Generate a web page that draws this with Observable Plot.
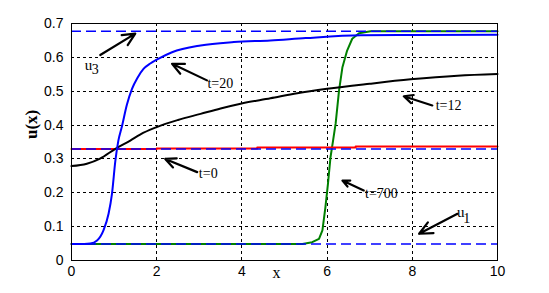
<!DOCTYPE html>
<html>
<head>
<meta charset="utf-8">
<script src="https://cdn.jsdelivr.net/npm/d3@7"></script>
<script src="https://cdn.jsdelivr.net/npm/@observablehq/plot@0.6"></script>
<style>
  html, body { margin: 0; padding: 0; background: white; }
</style>
</head>
<body>
<div id="chart"></div>
<script>
// ---- data ----
const xTicks = [0, 2, 4, 6, 8, 10];
const yTicks = [0, 0.1, 0.2, 0.3, 0.4, 0.5, 0.6, 0.7];
const yTickLabels = ["0", "0.1", "0.2", "0.3", "0.4", "0.5", "0.6", "0.7"];

// t = 20 (blue)
const t20X = [0, 0.3, 0.44, 0.6, 0.75, 0.87, 0.95, 1.03, 1.1, 1.18, 1.3, 1.42, 1.55, 1.69, 1.85, 2.0, 2.36, 3.03, 3.81, 4.67, 5.5, 6.79, 8, 10];
const t20Y = [0.049, 0.049, 0.050, 0.059, 0.089, 0.138, 0.197, 0.295, 0.354, 0.394, 0.46, 0.507, 0.54, 0.566, 0.582, 0.593, 0.615, 0.635, 0.645, 0.65, 0.657, 0.665, 0.666, 0.667];

// t = 12 (black)
const t12X = [0, 0.36, 0.67, 1.03, 1.38, 1.61, 2.0, 2.5, 3.03, 3.5, 3.97, 4.67, 5.3, 6.0, 7.0, 7.96, 9.06, 10];
const t12Y = [0.279, 0.286, 0.301, 0.33, 0.354, 0.372, 0.394, 0.415, 0.433, 0.449, 0.463, 0.479, 0.494, 0.507, 0.522, 0.535, 0.546, 0.551];

// t = 700 (green)
const t700X = [0, 5.42, 5.65, 5.81, 5.89, 5.96, 6.02, 6.08, 6.14, 6.2, 6.28, 6.36, 6.47, 6.59, 6.75, 7.02, 10];
const t700Y = [0.049, 0.049, 0.054, 0.064, 0.089, 0.157, 0.226, 0.305, 0.354, 0.404, 0.502, 0.571, 0.62, 0.655, 0.671, 0.677, 0.677];

// t = 0 (red, stepwise)
const t0X = [0, 2, 4.36, 6.67, 10];
const t0Y = [0.329, 0.331, 0.334, 0.337, 0.337];

// equilibrium levels (blue dashed)
const uLevels = [0.049, 0.329, 0.677];

// annotations: arrows (tail -> head) and labels
const arrowX1 = [0.675, 3.18, 8.47, 2.95, 6.86, 9.06];
const arrowY1 = [0.607, 0.532, 0.458, 0.261, 0.207, 0.138];
const arrowX2 = [1.497, 2.36, 7.80, 2.20, 6.36, 8.16];
const arrowY2 = [0.670, 0.581, 0.485, 0.300, 0.236, 0.079];

const labelText = ["t=20", "t=12", "t=0", "t=700"];
const labelX = [3.19, 8.55, 2.99, 6.89];
const labelY = [0.524, 0.458, 0.256, 0.197];

const uText = ["u", "u"];
const uSub = ["3", "1"];
const uX = [0.40, 9.14];
const uY = [0.576, 0.142];
const uSubX = [0.557, 9.28];
const uSubY = [0.564, 0.124];

// ---- build tables ----
const zip = (xs, ys) => xs.map((x, i) => ({x, y: ys[i]}));
const t20 = zip(t20X, t20Y);
const t12 = zip(t12X, t12Y);
const t700 = zip(t700X, t700Y);
const t0 = zip(t0X, t0Y);
const arrows = arrowX1.map((x1, i) => ({x1, y1: arrowY1[i], x2: arrowX2[i], y2: arrowY2[i]}));
const labels = labelText.map((t, i) => ({t, x: labelX[i], y: labelY[i]}));
const uLabels = uText.map((t, i) => ({t, x: uX[i], y: uY[i]}));
const uSubs = uSub.map((t, i) => ({t, x: uSubX[i], y: uSubY[i]}));

const serif = "'Liberation Serif', 'Times New Roman', serif";
const crisp = {shapeRendering: "crispEdges"};

const chart = Plot.plot({
  width: 549,
  height: 293,
  marginLeft: 71,
  marginRight: 52,
  marginTop: 23,
  marginBottom: 33,
  style: {fontFamily: "'Liberation Sans', Arial, sans-serif", fontSize: "13px", background: "white", color: "black"},
  x: {domain: [0, 10]},
  y: {domain: [0, 0.7]},
  marks: [
    Plot.ruleX(xTicks.slice(1, -1), {stroke: "black", strokeDasharray: "3,3", strokeWidth: 1, ...crisp}),
    Plot.ruleY(yTicks.slice(1, -1), {stroke: "black", strokeDasharray: "3,3", strokeWidth: 1, ...crisp}),
    Plot.axisX({ticks: xTicks, tickSize: 0, tickPadding: 6, label: null, fontSize: 14, fill: "black"}),
    Plot.axisY({ticks: yTicks, tickFormat: (d, i) => yTickLabels[i], tickSize: 0, tickPadding: 8, label: null, fontSize: 14, fill: "black"}),
    Plot.line(t700, {x: "x", y: "y", stroke: "#008000", strokeWidth: 2}),
    Plot.line(t0, {x: "x", y: "y", stroke: "#ff0000", strokeWidth: 2, curve: "step-after"}),
    Plot.line(t12, {x: "x", y: "y", stroke: "black", strokeWidth: 2, curve: "monotone-x"}),
    Plot.line(t20, {x: "x", y: "y", stroke: "#0000ff", strokeWidth: 2, curve: "monotone-x"}),
    Plot.ruleY(uLevels, {stroke: "#0000ff", strokeWidth: 1.5, strokeDasharray: "10,5"}),
    Plot.arrow(arrows, {x1: "x1", y1: "y1", x2: "x2", y2: "y2", stroke: "black", strokeWidth: 2.2, headLength: 10, headAngle: 50}),
    Plot.text(labels, {x: "x", y: "y", text: "t", textAnchor: "start", fontFamily: serif, fontSize: 14, fill: "black"}),
    Plot.text(uLabels, {x: "x", y: "y", text: "t", fontFamily: serif, fontSize: 15, fill: "black"}),
    Plot.text(uSubs, {x: "x", y: "y", text: "t", fontFamily: serif, fontSize: 14, fill: "black"}),
    Plot.frame({stroke: "black", strokeWidth: 1, ...crisp}),
    Plot.text(["u(x)"], {frameAnchor: "left", dx: -40, dy: -3, rotate: -90, fontFamily: serif, fontWeight: "bold", fontSize: 17, fill: "black"}),
    Plot.text(["x"], {frameAnchor: "bottom", dx: -8, dy: 17, fontFamily: serif, fontSize: 16, fill: "black"})
  ]
});
document.getElementById("chart").appendChild(chart);
</script>
</body>
</html>
